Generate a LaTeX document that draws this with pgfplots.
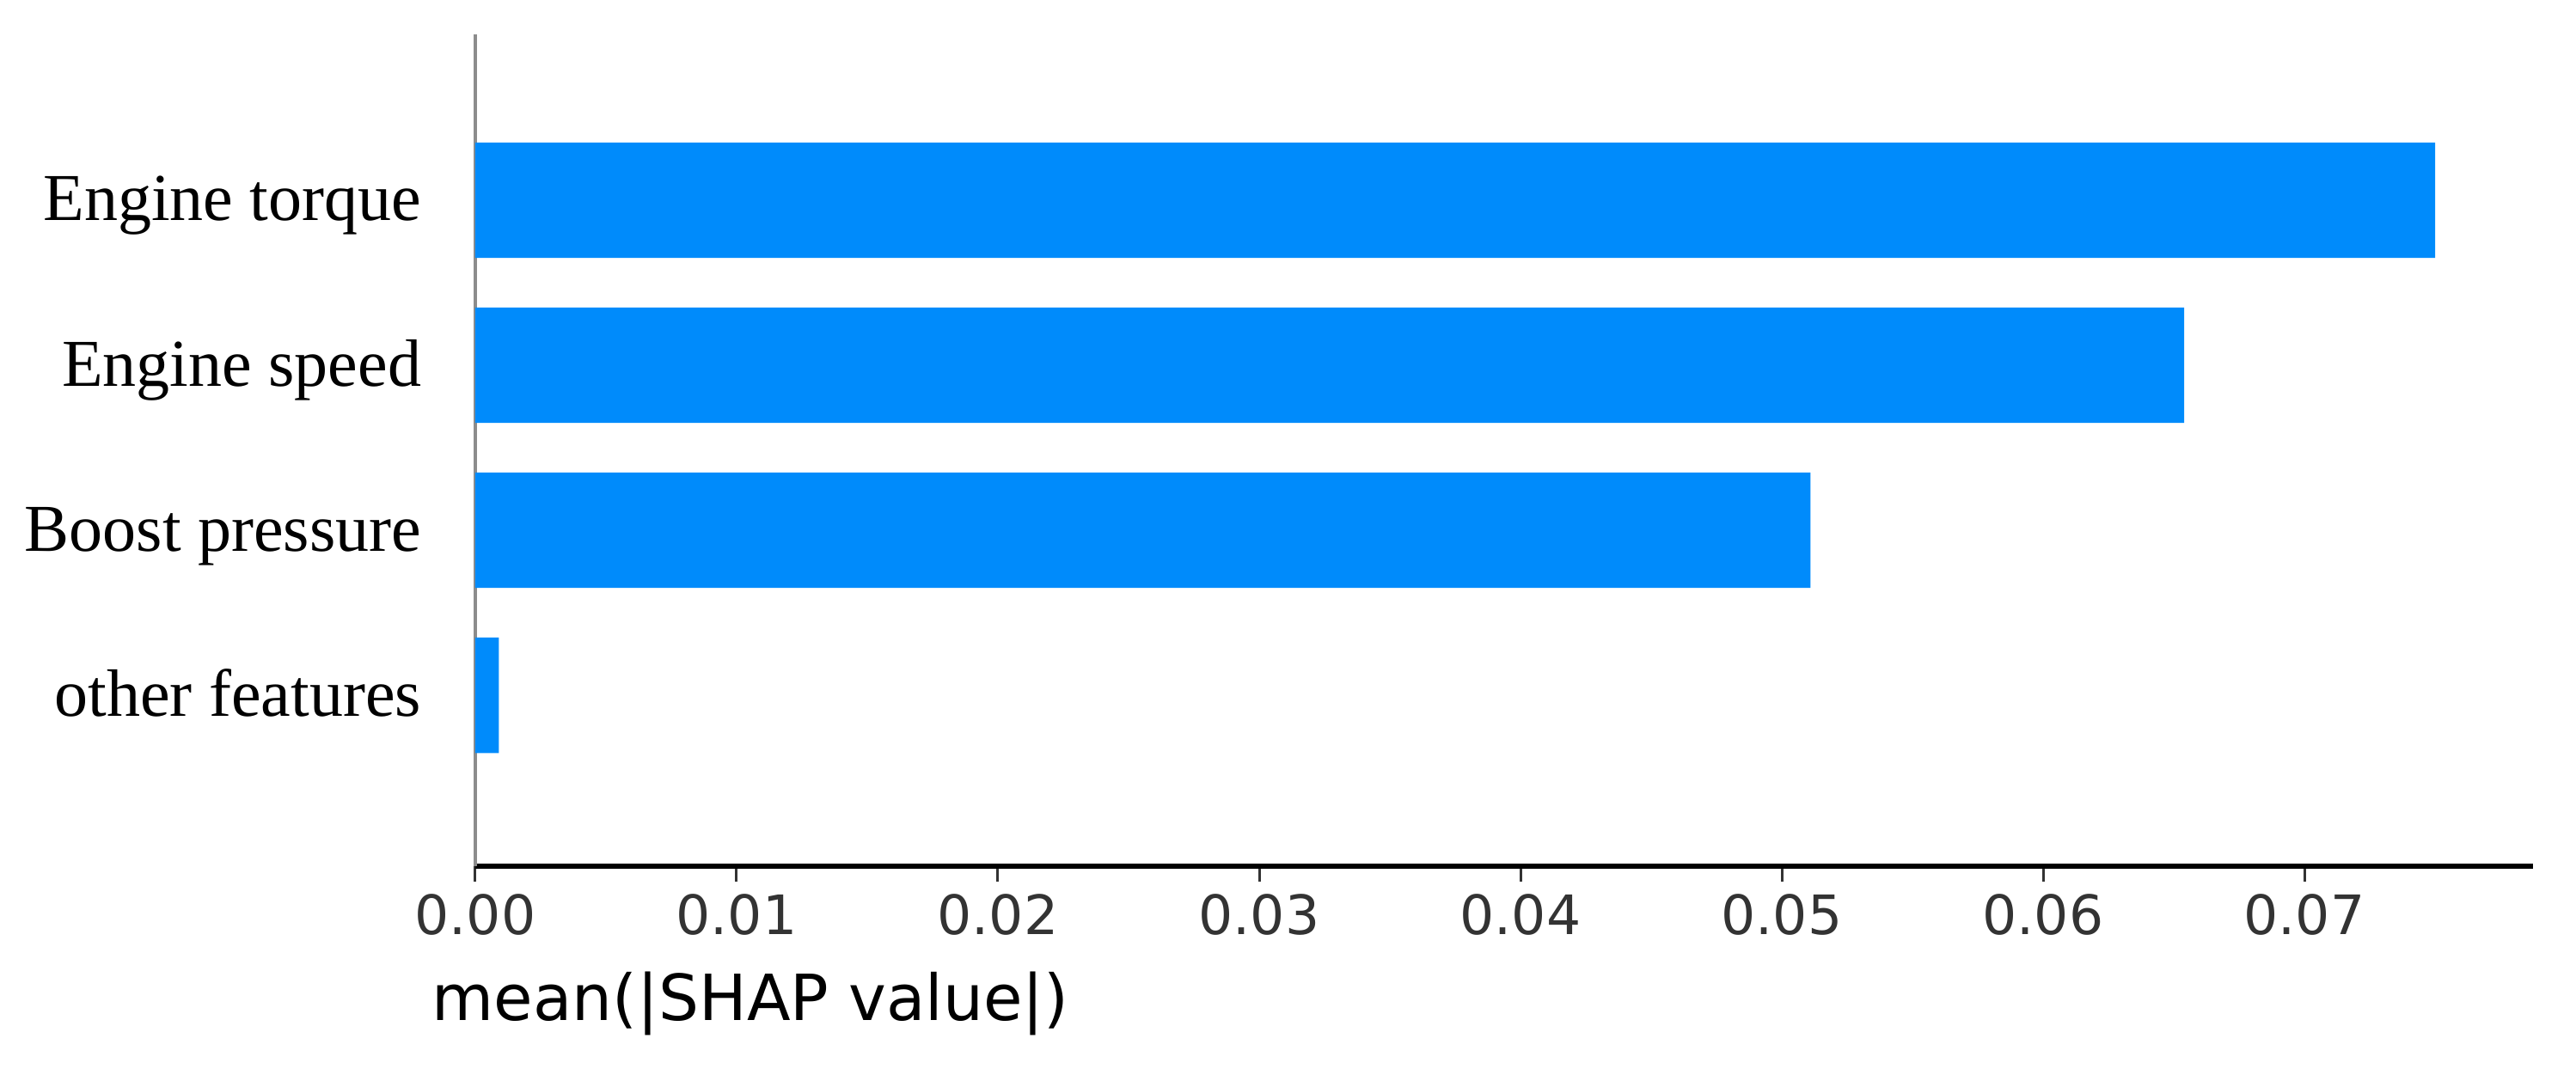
\documentclass[border=0pt]{standalone}
\usepackage{pgfplots}
\pgfplotsset{compat=1.18}
\usepackage{fontspec}
\newfontfamily\dejavu{DejaVu Sans}
\newfontfamily\libserif{Liberation Serif}
\definecolor{shapblue}{HTML}{008BFB}
\definecolor{ticklab}{HTML}{333333}
\definecolor{spinegray}{HTML}{8C8C8C}
\begin{document}
\begin{tikzpicture}
\useasboundingbox (-138.25pt,-60.75pt) rectangle (611pt,252pt);
\begin{axis}[
  at={(0,0)}, anchor=south west,
  scale only axis,
  width=598.5pt, height=242pt,
  xbar,
  xmin=0, xmax=0.07875,
  ymin=-1.036, ymax=4.005,
  axis x line*=bottom,
  axis y line*=left,
  x axis line style={black, line width=1.7pt},
  y axis line style={spinegray, line width=0.8pt},
  xtick={0,0.01,0.02,0.03,0.04,0.05,0.06,0.07},
  scaled x ticks=false,
  ytick={0,1,2,3},
  yticklabels={other features, Boost pressure, Engine speed, Engine torque},
  tick align=outside,
  major tick length=4.5pt,
  x tick style={ticklab, line width=0.75pt},
  y tick style={draw=none},
  /pgf/number format/assume math mode=true,
  xticklabel={\pgfmathprintnumber[fixed, fixed zerofill, precision=2]{\tick}},
  xticklabel style={font=\dejavu\fontsize{15.8}{15.8}\selectfont, text=ticklab, inner sep=0pt, yshift=-3.5pt},
  yticklabel style={font=\libserif\fontsize{19.5}{19.5}\selectfont, text=black, inner sep=0pt, anchor=base east, yshift=-6pt, xshift=-11pt},
  xlabel={mean(|SHAP value|)},
  xlabel style={font=\dejavu\fontsize{18.5}{18.5}\selectfont, at={(axis description cs:-0.0213,0)}, anchor=base west, inner sep=0pt, yshift=-45pt},
  clip=false,
]
\addplot[fill=shapblue, draw=none, bar width=0.7] coordinates {(0.0009,0) (0.0511,1) (0.0654,2) (0.0750,3)};
\end{axis}
\end{tikzpicture}
\end{document}
